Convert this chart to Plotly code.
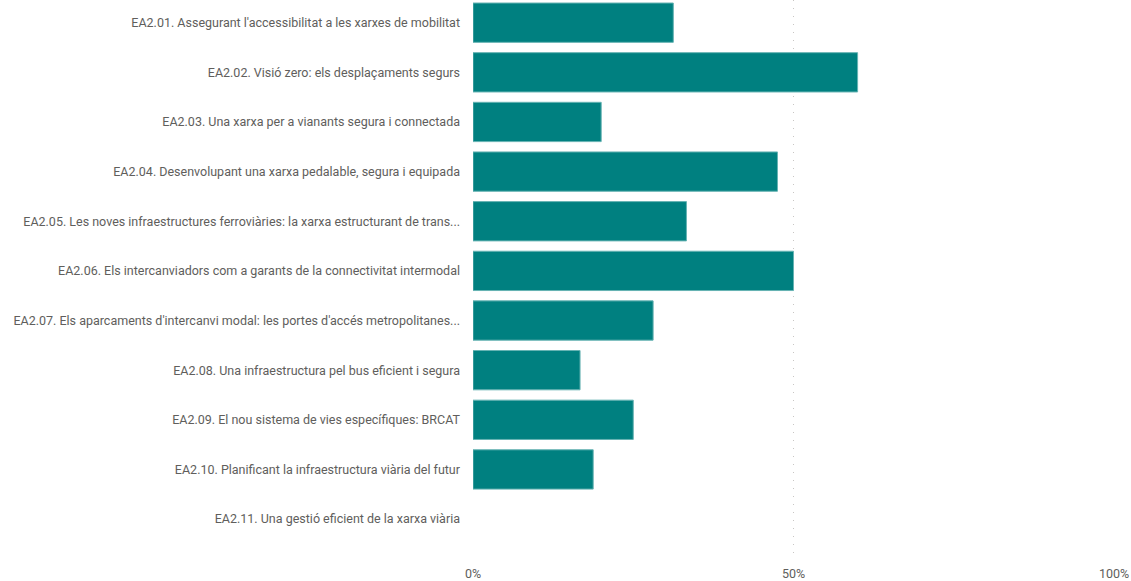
import plotly.graph_objects as go

categories = [
    "EA2.01. Assegurant l'accessibilitat a les xarxes de mobilitat",
    "EA2.02. Visió zero: els desplaçaments segurs",
    "EA2.03. Una xarxa per a vianants segura i connectada",
    "EA2.04. Desenvolupant una xarxa pedalable, segura i equipada",
    "EA2.05. Les noves infraestructures ferroviàries: la xarxa estructurant de trans...",
    "EA2.06. Els intercanviadors com a garants de la connectivitat intermodal",
    "EA2.07. Els aparcaments d'intercanvi modal: les portes d'accés metropolitanes...",
    "EA2.08. Una infraestructura pel bus eficient i segura",
    "EA2.09. El nou sistema de vies específiques: BRCAT",
    "EA2.10. Planificant la infraestructura viària del futur",
    "EA2.11. Una gestió eficient de la xarxa viària",
]
values = [0.3125, 0.60, 0.20, 0.475, 0.333, 0.50, 0.281, 0.167, 0.25, 0.1875, 0.0]
x_ticks = [0, 0.5, 1.0]
x_tick_labels = ["0%", "50%", "100%"]

outline_widths = [1 if v > 0 else 0 for v in values]

fig = go.Figure(go.Bar(
    y=categories, x=values, orientation="h",
    marker=dict(color="#008080", line=dict(color="#66b3b3", width=outline_widths)),
    hoverinfo="x+y",
))

fig.update_layout(
    width=1131, height=581,
    margin=dict(l=473, r=17, t=0, b=23),
    paper_bgcolor="white", plot_bgcolor="white",
    bargap=0.208,
    showlegend=False,
    font=dict(family="Roboto, sans-serif", size=12.5, color="#605E5C"),
)
fig.update_xaxes(
    automargin=False,
    range=[0, 1.0], tickvals=x_ticks, ticktext=x_tick_labels,
    showgrid=True, gridcolor="#C8C6C4", griddash="1px,7px", gridwidth=1,
    zeroline=False, showline=False, ticks="", fixedrange=True,
    ticklabelstandoff=6,
    tickfont=dict(size=12.5, color="#605E5C"),
)
fig.update_yaxes(
    automargin=False,
    categoryorder="array", categoryarray=categories,
    range=[10.784, -0.457], showgrid=False, zeroline=False, showline=False,
    ticks="", ticklabelstandoff=12,
    tickfont=dict(size=12.5, color="#605E5C"),
)

fig.write_html(
    "out.html",
    config={"displayModeBar": False},
    post_script="document.body.style.margin='0';document.body.style.overflow='hidden';",
)
